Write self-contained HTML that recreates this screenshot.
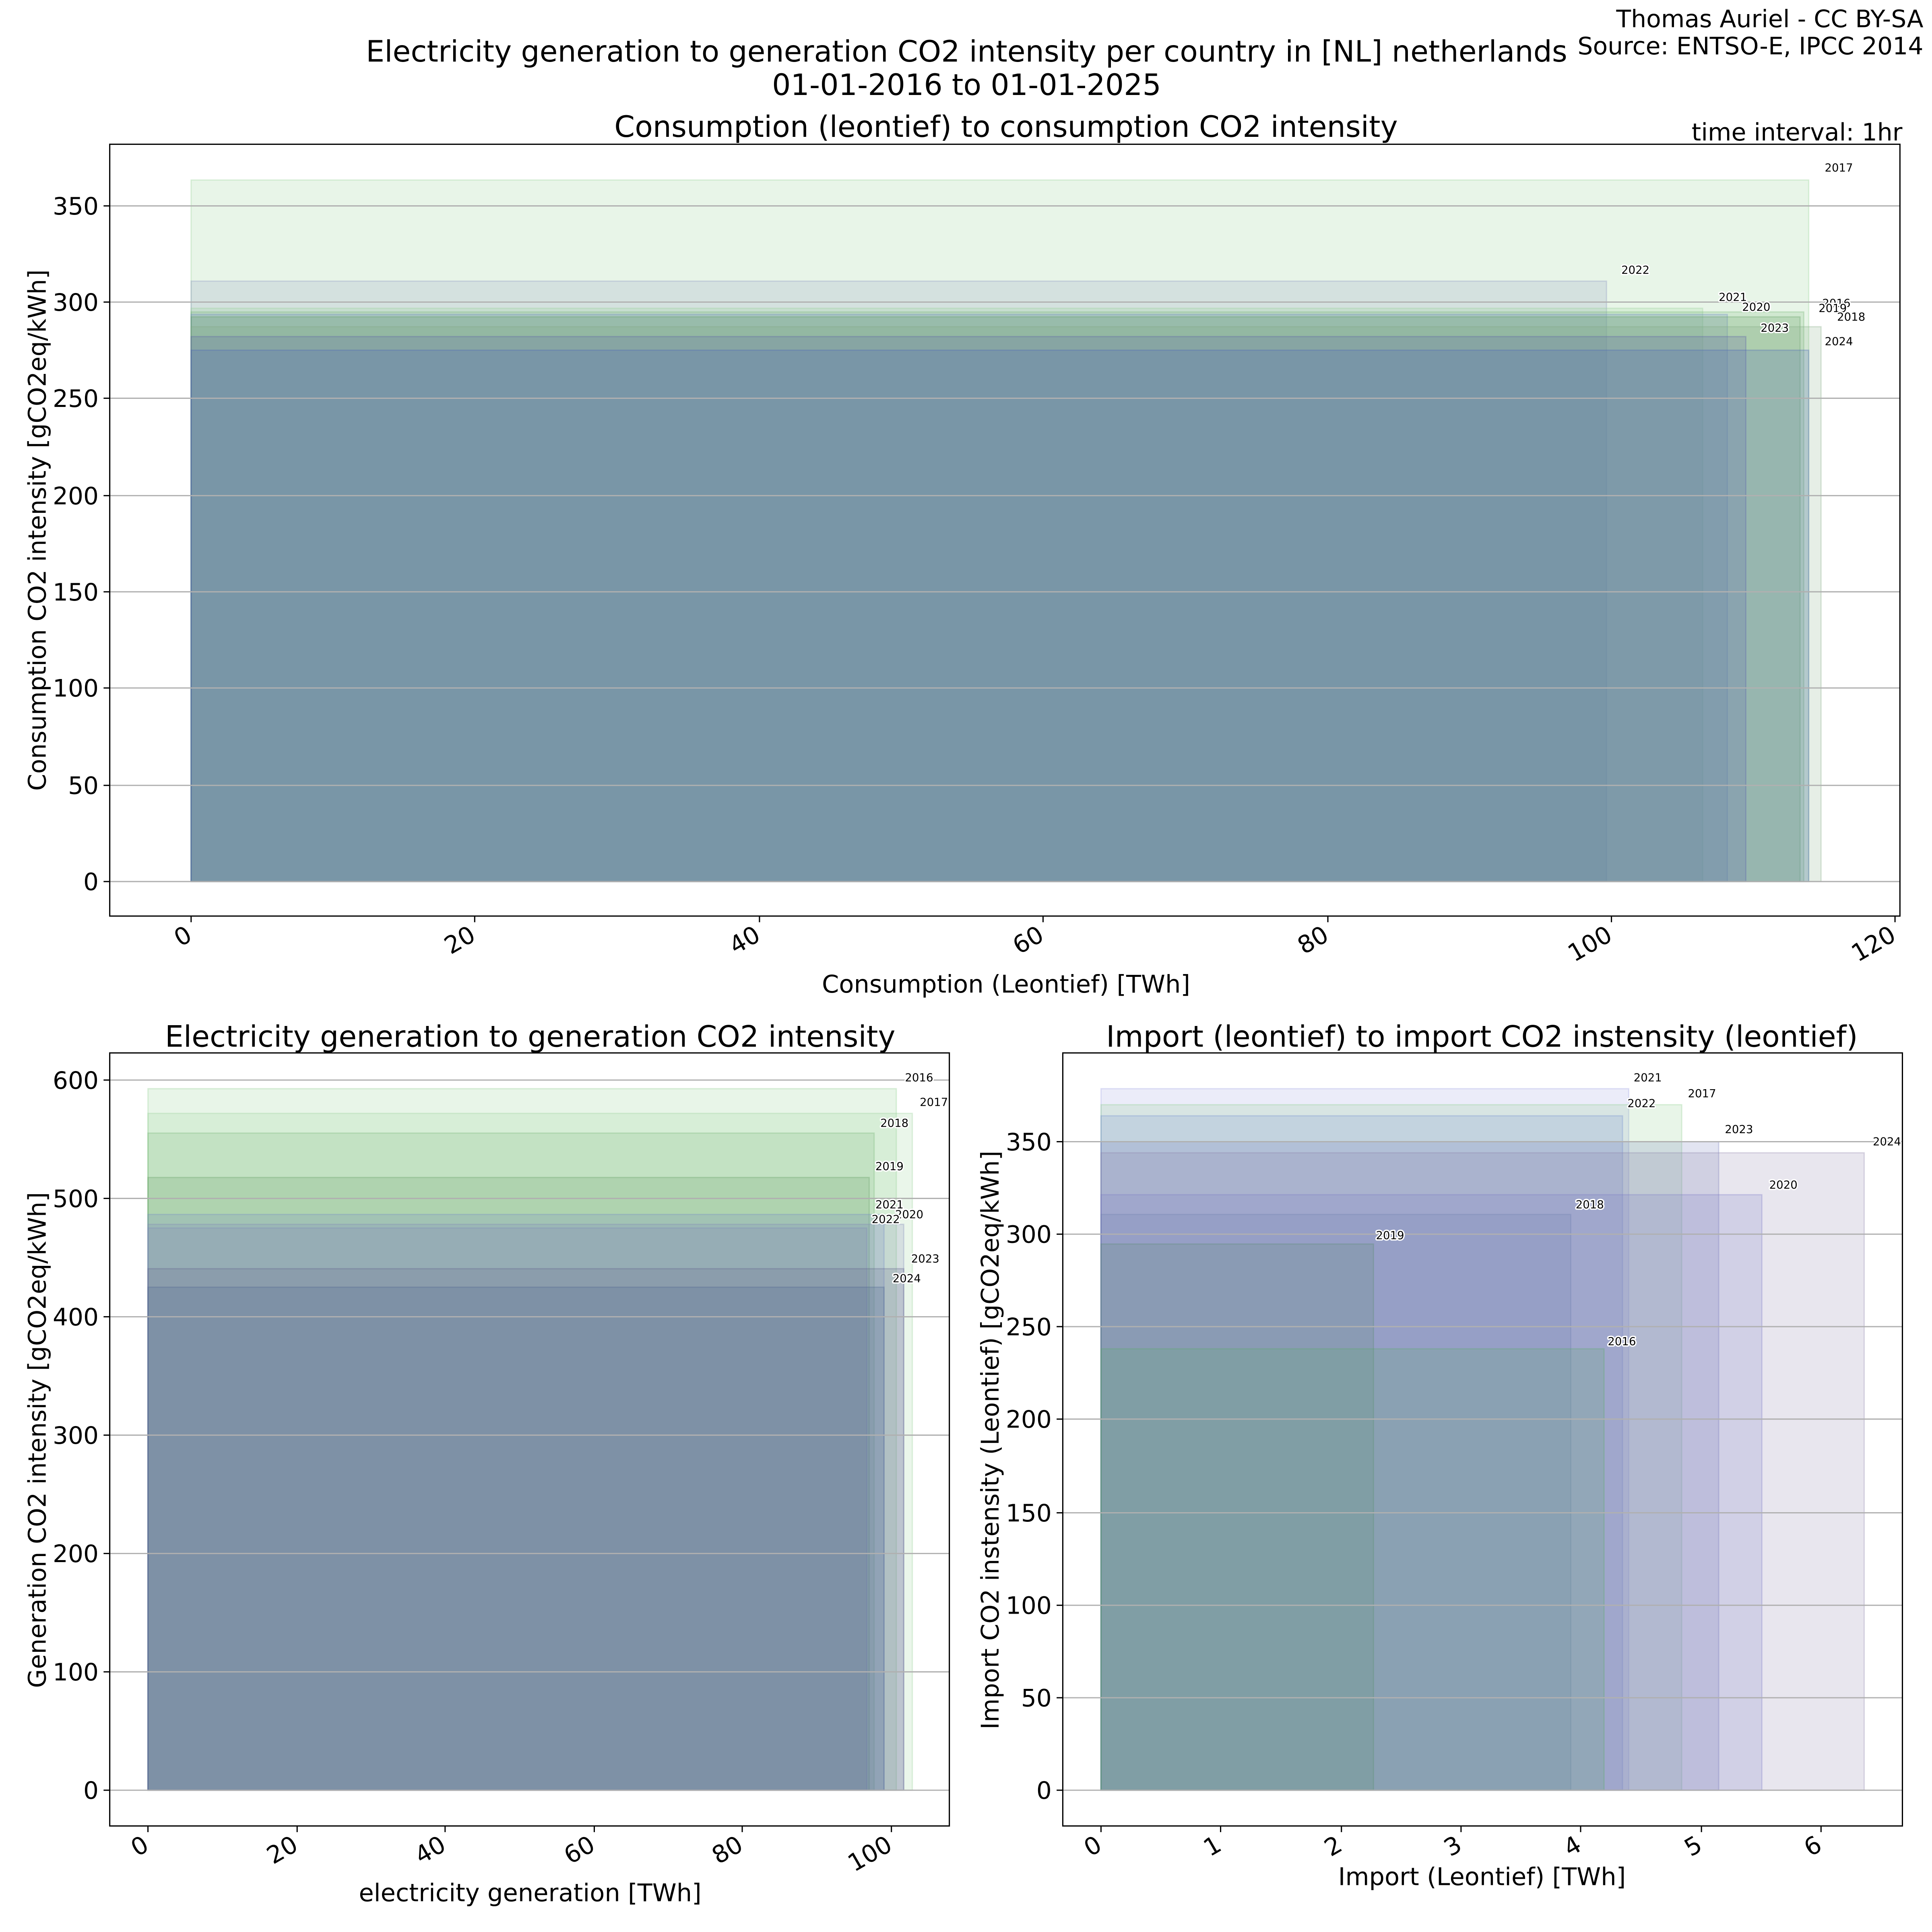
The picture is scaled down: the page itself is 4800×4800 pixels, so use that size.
<!DOCTYPE html>
<html><head><meta charset="utf-8"><style>
html,body{margin:0;padding:0;background:#fff}
svg{display:block}
text{font-family:"DejaVu Sans","Liberation Sans",sans-serif;fill:#000}
.t{font-size:23.8px}
.tk{font-size:19.5px}
.lb{font-size:19.8px}
.cr{font-size:19.6px}
.yr{font-size:9px;stroke:#fff;stroke-width:2.2px;paint-order:stroke;stroke-linejoin:round}
.g{stroke:#b0b0b0;stroke-width:1}
</style></head><body>
<svg width="4800" height="4800" viewBox="0 0 1567 1567" xmlns="http://www.w3.org/2000/svg">
<rect width="1567" height="1567" fill="#fff"/>
<text class="t" x="784" y="50" text-anchor="middle">Electricity generation to generation CO2 intensity per country in [NL] netherlands</text>
<text class="t" x="784" y="77" text-anchor="middle">01-01-2016 to 01-01-2025</text>
<text class="cr" x="1560" y="22" text-anchor="end">Thomas Auriel - CC BY-SA</text>
<text class="cr" x="1560" y="44" text-anchor="end">Source: ENTSO-E, IPCC 2014</text>

<!-- TOP CHART -->
<text class="t" x="816" y="111" text-anchor="middle">Consumption (leontief) to consumption CO2 intensity</text>
<text class="cr" x="1543" y="114" text-anchor="end">time interval: 1hr</text>
<g stroke-width="1">
<rect x="155" y="146" width="1312" height="569" fill="#8ccd8c" fill-opacity="0.2" stroke="#8ccd8c" stroke-opacity="0.3"/>
<rect x="155" y="228" width="1148" height="487" fill="#8990c0" fill-opacity="0.2" stroke="#8990c0" stroke-opacity="0.3"/>
<rect x="155" y="250" width="1226" height="465" fill="#98d298" fill-opacity="0.2" stroke="#98d298" stroke-opacity="0.3"/>
<rect x="155" y="253" width="1308" height="462" fill="#74b274" fill-opacity="0.2" stroke="#74b274" stroke-opacity="0.3"/>
<rect x="155" y="255" width="1246" height="460" fill="#6f89c9" fill-opacity="0.2" stroke="#6f89c9" stroke-opacity="0.3"/>
<rect x="155" y="257" width="1305" height="458" fill="#609c60" fill-opacity="0.2" stroke="#609c60" stroke-opacity="0.3"/>
<rect x="155" y="265" width="1322" height="450" fill="#82a882" fill-opacity="0.2" stroke="#82a882" stroke-opacity="0.3"/>
<rect x="155" y="273" width="1261" height="442" fill="#5a58a8" fill-opacity="0.2" stroke="#5a58a8" stroke-opacity="0.3"/>
<rect x="155" y="284" width="1312" height="431" fill="#4a62b8" fill-opacity="0.22" stroke="#4a62b8" stroke-opacity="0.3"/>
</g>
<g class="g">
<line x1="89" x2="1541" y1="715" y2="715"/><line x1="89" x2="1541" y1="637" y2="637"/><line x1="89" x2="1541" y1="558" y2="558"/><line x1="89" x2="1541" y1="480" y2="480"/><line x1="89" x2="1541" y1="402" y2="402"/><line x1="89" x2="1541" y1="323" y2="323"/><line x1="89" x2="1541" y1="245" y2="245"/><line x1="89" x2="1541" y1="167" y2="167"/>
</g>
<g class="yr">
<text x="1480" y="139">2017</text><text x="1315" y="222">2022</text><text x="1394" y="244">2021</text><text x="1413" y="252">2020</text><text x="1478" y="249">2016</text><text x="1475" y="253">2019</text><text x="1490" y="260">2018</text><text x="1428" y="269">2023</text><text x="1480" y="280">2024</text>
</g>
<rect x="89" y="117" width="1452" height="626" fill="none" stroke="#000" stroke-width="1"/>
<g stroke="#000" stroke-width="1">
<line x1="84" x2="89" y1="715" y2="715"/><line x1="84" x2="89" y1="637" y2="637"/><line x1="84" x2="89" y1="558" y2="558"/><line x1="84" x2="89" y1="480" y2="480"/><line x1="84" x2="89" y1="402" y2="402"/><line x1="84" x2="89" y1="323" y2="323"/><line x1="84" x2="89" y1="245" y2="245"/><line x1="84" x2="89" y1="167" y2="167"/>
<line x1="155" x2="155" y1="743" y2="748"/><line x1="385" x2="385" y1="743" y2="748"/><line x1="616" x2="616" y1="743" y2="748"/><line x1="846" x2="846" y1="743" y2="748"/><line x1="1077" x2="1077" y1="743" y2="748"/><line x1="1307" x2="1307" y1="743" y2="748"/><line x1="1537" x2="1537" y1="743" y2="748"/>
</g>
<g class="tk" text-anchor="end">
<text x="80" y="722">0</text><text x="80" y="644">50</text><text x="80" y="565">100</text><text x="80" y="487">150</text><text x="80" y="409">200</text><text x="80" y="330">250</text><text x="80" y="252">300</text><text x="80" y="174">350</text>
</g>
<g class="tk" text-anchor="end">
<text transform="translate(157,762) rotate(-30)">0</text><text transform="translate(387,762) rotate(-30)">20</text><text transform="translate(618,762) rotate(-30)">40</text><text transform="translate(848,762) rotate(-30)">60</text><text transform="translate(1079,762) rotate(-30)">80</text><text transform="translate(1309,762) rotate(-30)">100</text><text transform="translate(1539,762) rotate(-30)">120</text>
</g>
<text class="lb" x="816" y="805" text-anchor="middle">Consumption (Leontief) [TWh]</text>
<text class="lb" transform="translate(37,430) rotate(-90)" text-anchor="middle">Consumption CO2 intensity [gCO2eq/kWh]</text>

<!-- BOTTOM LEFT -->
<text class="t" x="430" y="849" text-anchor="middle">Electricity generation to generation CO2 intensity</text>
<g stroke-width="1">
<rect x="120" y="883" width="607" height="569" fill="#8ccd8c" fill-opacity="0.2" stroke="#8ccd8c" stroke-opacity="0.3"/>
<rect x="120" y="903" width="620" height="549" fill="#98d298" fill-opacity="0.2" stroke="#98d298" stroke-opacity="0.3"/>
<rect x="120" y="919" width="589" height="533" fill="#74b274" fill-opacity="0.2" stroke="#74b274" stroke-opacity="0.3"/>
<rect x="120" y="955" width="585" height="497" fill="#609c60" fill-opacity="0.2" stroke="#609c60" stroke-opacity="0.3"/>
<rect x="120" y="985" width="597" height="467" fill="#6f89c9" fill-opacity="0.2" stroke="#6f89c9" stroke-opacity="0.3"/>
<rect x="120" y="993" width="613" height="459" fill="#8288ba" fill-opacity="0.2" stroke="#8288ba" stroke-opacity="0.3"/>
<rect x="120" y="996" width="583" height="456" fill="#8288ba" fill-opacity="0.2" stroke="#8288ba" stroke-opacity="0.3"/>
<rect x="120" y="1029" width="613" height="423" fill="#605f8a" fill-opacity="0.2" stroke="#605f8a" stroke-opacity="0.3"/>
<rect x="120" y="1044" width="597" height="408" fill="#4b6390" fill-opacity="0.2" stroke="#4b6390" stroke-opacity="0.3"/>
</g>
<g class="g">
<line x1="89" x2="770" y1="1452" y2="1452"/><line x1="89" x2="770" y1="1356" y2="1356"/><line x1="89" x2="770" y1="1260" y2="1260"/><line x1="89" x2="770" y1="1164" y2="1164"/><line x1="89" x2="770" y1="1068" y2="1068"/><line x1="89" x2="770" y1="972" y2="972"/><line x1="89" x2="770" y1="876" y2="876"/>
</g>
<g class="yr">
<text x="734" y="877">2016</text><text x="746" y="897">2017</text><text x="714" y="914">2018</text><text x="710" y="949">2019</text><text x="710" y="980">2021</text><text x="726" y="988">2020</text><text x="707" y="992">2022</text><text x="739" y="1024">2023</text><text x="724" y="1040">2024</text>
</g>
<rect x="89" y="854" width="681" height="627" fill="none" stroke="#000" stroke-width="1"/>
<g stroke="#000" stroke-width="1">
<line x1="84" x2="89" y1="1452" y2="1452"/><line x1="84" x2="89" y1="1356" y2="1356"/><line x1="84" x2="89" y1="1260" y2="1260"/><line x1="84" x2="89" y1="1164" y2="1164"/><line x1="84" x2="89" y1="1068" y2="1068"/><line x1="84" x2="89" y1="972" y2="972"/><line x1="84" x2="89" y1="876" y2="876"/>
<line x1="120" x2="120" y1="1481" y2="1486"/><line x1="241" x2="241" y1="1481" y2="1486"/><line x1="361" x2="361" y1="1481" y2="1486"/><line x1="482" x2="482" y1="1481" y2="1486"/><line x1="602" x2="602" y1="1481" y2="1486"/><line x1="723" x2="723" y1="1481" y2="1486"/>
</g>
<g class="tk" text-anchor="end">
<text x="80" y="1459">0</text><text x="80" y="1363">100</text><text x="80" y="1267">200</text><text x="80" y="1171">300</text><text x="80" y="1075">400</text><text x="80" y="979">500</text><text x="80" y="883">600</text>
</g>
<g class="tk" text-anchor="end">
<text transform="translate(122,1500) rotate(-30)">0</text><text transform="translate(243,1500) rotate(-30)">20</text><text transform="translate(363,1500) rotate(-30)">40</text><text transform="translate(484,1500) rotate(-30)">60</text><text transform="translate(604,1500) rotate(-30)">80</text><text transform="translate(725,1500) rotate(-30)">100</text>
</g>
<text class="lb" x="430" y="1542" text-anchor="middle">electricity generation [TWh]</text>
<text class="lb" transform="translate(37,1168) rotate(-90)" text-anchor="middle">Generation CO2 intensity [gCO2eq/kWh]</text>

<!-- BOTTOM RIGHT -->
<text class="t" x="1202" y="849" text-anchor="middle">Import (leontief) to import CO2 instensity (leontief)</text>
<g stroke-width="1">
<rect x="893" y="883" width="428" height="569" fill="#9aa0e0" fill-opacity="0.2" stroke="#9aa0e0" stroke-opacity="0.3"/>
<rect x="893" y="896" width="471" height="556" fill="#8ccd8c" fill-opacity="0.2" stroke="#8ccd8c" stroke-opacity="0.3"/>
<rect x="893" y="905" width="423" height="547" fill="#728ad0" fill-opacity="0.2" stroke="#728ad0" stroke-opacity="0.3"/>
<rect x="893" y="926" width="501" height="526" fill="#7078b8" fill-opacity="0.2" stroke="#7078b8" stroke-opacity="0.3"/>
<rect x="893" y="935" width="619" height="517" fill="#8c82aa" fill-opacity="0.2" stroke="#8c82aa" stroke-opacity="0.3"/>
<rect x="893" y="969" width="536" height="483" fill="#7a76c8" fill-opacity="0.2" stroke="#7a76c8" stroke-opacity="0.3"/>
<rect x="893" y="985" width="381" height="467" fill="#7080b0" fill-opacity="0.2" stroke="#7080b0" stroke-opacity="0.3"/>
<rect x="893" y="1009" width="221" height="443" fill="#5a8a70" fill-opacity="0.2" stroke="#5a8a70" stroke-opacity="0.3"/>
<rect x="893" y="1094" width="408" height="358" fill="#58ac68" fill-opacity="0.2" stroke="#58ac68" stroke-opacity="0.3"/>
</g>
<g class="g">
<line x1="862" x2="1543" y1="1452" y2="1452"/><line x1="862" x2="1543" y1="1377" y2="1377"/><line x1="862" x2="1543" y1="1302" y2="1302"/><line x1="862" x2="1543" y1="1227" y2="1227"/><line x1="862" x2="1543" y1="1151" y2="1151"/><line x1="862" x2="1543" y1="1076" y2="1076"/><line x1="862" x2="1543" y1="1001" y2="1001"/><line x1="862" x2="1543" y1="926" y2="926"/>
</g>
<g class="yr">
<text x="1325" y="877">2021</text><text x="1369" y="890">2017</text><text x="1320" y="898">2022</text><text x="1399" y="919">2023</text><text x="1519" y="929">2024</text><text x="1435" y="964">2020</text><text x="1278" y="980">2018</text><text x="1116" y="1005">2019</text><text x="1304" y="1091">2016</text>
</g>
<rect x="862" y="854" width="681" height="627" fill="none" stroke="#000" stroke-width="1"/>
<g stroke="#000" stroke-width="1">
<line x1="857" x2="862" y1="1452" y2="1452"/><line x1="857" x2="862" y1="1377" y2="1377"/><line x1="857" x2="862" y1="1302" y2="1302"/><line x1="857" x2="862" y1="1227" y2="1227"/><line x1="857" x2="862" y1="1151" y2="1151"/><line x1="857" x2="862" y1="1076" y2="1076"/><line x1="857" x2="862" y1="1001" y2="1001"/><line x1="857" x2="862" y1="926" y2="926"/>
<line x1="893" x2="893" y1="1481" y2="1486"/><line x1="990" x2="990" y1="1481" y2="1486"/><line x1="1088" x2="1088" y1="1481" y2="1486"/><line x1="1185" x2="1185" y1="1481" y2="1486"/><line x1="1282" x2="1282" y1="1481" y2="1486"/><line x1="1380" x2="1380" y1="1481" y2="1486"/><line x1="1477" x2="1477" y1="1481" y2="1486"/>
</g>
<g class="tk" text-anchor="end">
<text x="853" y="1459">0</text><text x="853" y="1384">50</text><text x="853" y="1309">100</text><text x="853" y="1234">150</text><text x="853" y="1158">200</text><text x="853" y="1083">250</text><text x="853" y="1008">300</text><text x="853" y="933">350</text>
</g>
<g class="tk" text-anchor="end">
<text transform="translate(895,1500) rotate(-30)">0</text><text transform="translate(992,1500) rotate(-30)">1</text><text transform="translate(1090,1500) rotate(-30)">2</text><text transform="translate(1187,1500) rotate(-30)">3</text><text transform="translate(1284,1500) rotate(-30)">4</text><text transform="translate(1382,1500) rotate(-30)">5</text><text transform="translate(1479,1500) rotate(-30)">6</text>
</g>
<text class="lb" x="1202" y="1529" text-anchor="middle">Import (Leontief) [TWh]</text>
<text class="lb" transform="translate(810,1168) rotate(-90)" text-anchor="middle">Import CO2 instensity (Leontief) [gCO2eq/kWh]</text>
</svg>
</body></html>
